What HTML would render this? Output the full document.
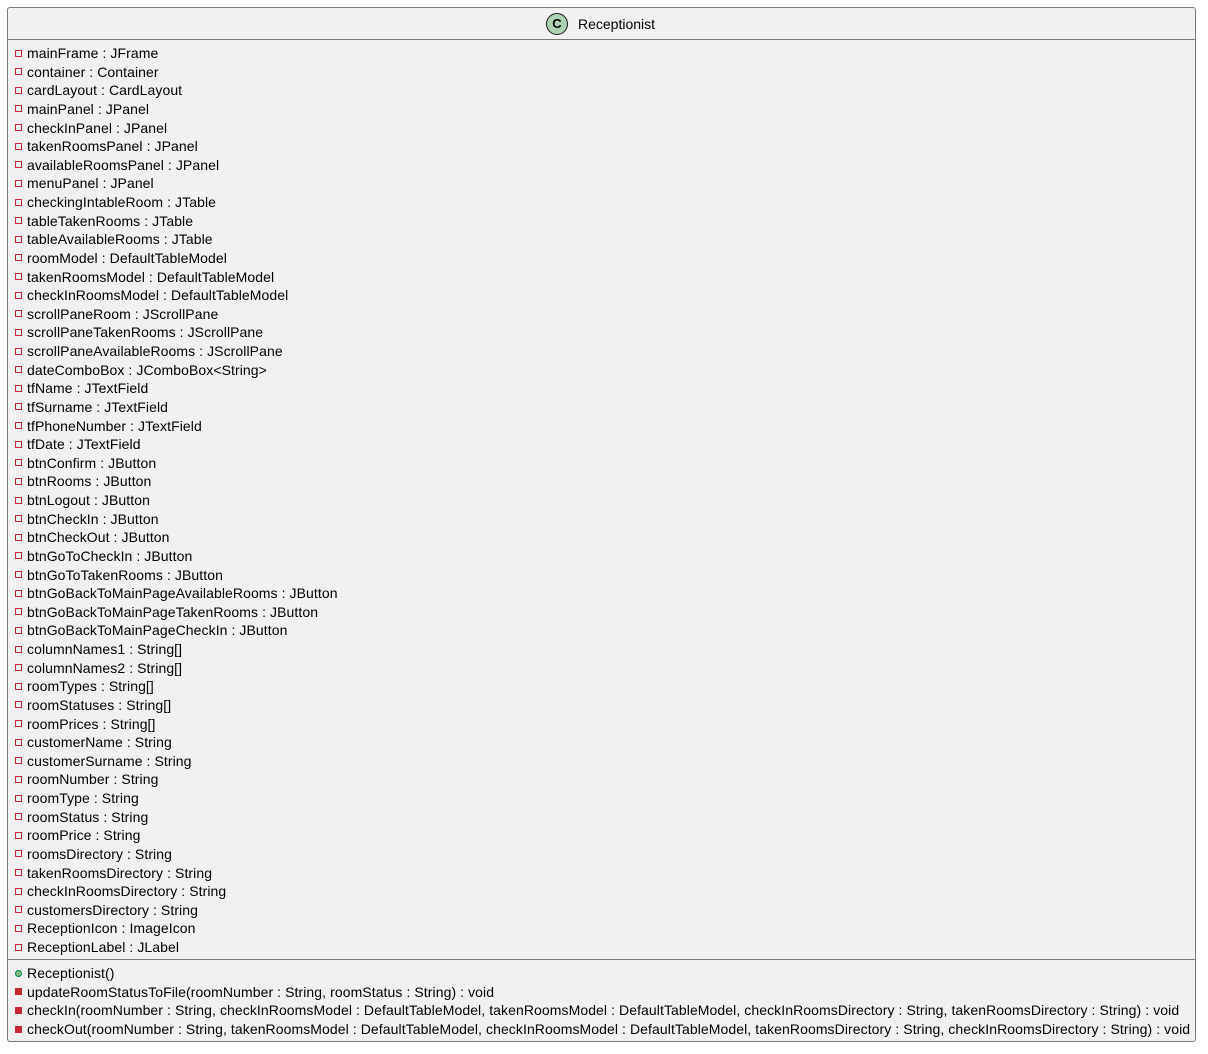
<!DOCTYPE html>
<html><head><meta charset="utf-8"><style>
body{margin:0;background:#fff;width:1208px;height:1054px;position:relative;overflow:hidden;font-family:"Liberation Sans",Arial,sans-serif}
.box{position:absolute;left:7px;top:7px;width:1189px;height:1035px;background:#f1f1f1;border:1px solid #7a7a7a;border-radius:3px;box-sizing:border-box}
.sep{position:absolute;left:8px;width:1187px;height:1px;background:#7a7a7a}
.r{position:absolute;left:27px;font-size:14px;letter-spacing:0.08px;line-height:18px;height:18px;white-space:nowrap;color:#000}
.i{position:absolute;left:15px;width:5px;height:5px;border:1px solid #c82930;box-sizing:content-box}
.m{position:absolute;left:15px;width:7px;height:7px;background:#c82930}
.p{position:absolute;left:15px;width:7px;height:7px;border-radius:50%;background:#84be84;border:1px solid #038048;box-sizing:border-box}
</style></head><body>
<div class="box"></div>
<div class="sep" style="top:39px"></div>
<div class="sep" style="top:959px"></div>
<div style="position:absolute;left:546px;top:13px;width:22px;height:22px;border-radius:50%;background:#add1b2;border:1px solid #181818;box-sizing:border-box;text-align:center;font:bold 13px/20px 'Liberation Sans',sans-serif">C</div>
<div style="position:absolute;left:578px;top:15px;font-size:14px;line-height:18px">Receptionist</div>
<div id="f"></div>
<script>
var fields=["mainFrame : JFrame","container : Container","cardLayout : CardLayout","mainPanel : JPanel","checkInPanel : JPanel","takenRoomsPanel : JPanel","availableRoomsPanel : JPanel","menuPanel : JPanel","checkingIntableRoom : JTable","tableTakenRooms : JTable","tableAvailableRooms : JTable","roomModel : DefaultTableModel","takenRoomsModel : DefaultTableModel","checkInRoomsModel : DefaultTableModel","scrollPaneRoom : JScrollPane","scrollPaneTakenRooms : JScrollPane","scrollPaneAvailableRooms : JScrollPane","dateComboBox : JComboBox&lt;String&gt;","tfName : JTextField","tfSurname : JTextField","tfPhoneNumber : JTextField","tfDate : JTextField","btnConfirm : JButton","btnRooms : JButton","btnLogout : JButton","btnCheckIn : JButton","btnCheckOut : JButton","btnGoToCheckIn : JButton","btnGoToTakenRooms : JButton","btnGoBackToMainPageAvailableRooms : JButton","btnGoBackToMainPageTakenRooms : JButton","btnGoBackToMainPageCheckIn : JButton","columnNames1 : String[]","columnNames2 : String[]","roomTypes : String[]","roomStatuses : String[]","roomPrices : String[]","customerName : String","customerSurname : String","roomNumber : String","roomType : String","roomStatus : String","roomPrice : String","roomsDirectory : String","takenRoomsDirectory : String","checkInRoomsDirectory : String","customersDirectory : String","ReceptionIcon : ImageIcon","ReceptionLabel : JLabel"];
var h="";
fields.forEach(function(t,k){var c=53+k*18.625;h+='<div class="i" style="top:'+Math.round(c-3.5)+'px"></div><div class="r" style="top:'+Math.round(c-9)+'px">'+t+'</div>';});
var meth=[["p","Receptionist()"],["m","updateRoomStatusToFile(roomNumber : String, roomStatus : String) : void"],["m","checkIn(roomNumber : String, checkInRoomsModel : DefaultTableModel, takenRoomsModel : DefaultTableModel, checkInRoomsDirectory : String, takenRoomsDirectory : String) : void"],["m","checkOut(roomNumber : String, takenRoomsModel : DefaultTableModel, checkInRoomsModel : DefaultTableModel, takenRoomsDirectory : String, checkInRoomsDirectory : String) : void"]];
meth.forEach(function(m,k){var c=973+k*18.67;h+='<div class="'+m[0]+'" style="top:'+Math.round(c-3.5)+'px"></div><div class="r" style="top:'+Math.round(c-9)+'px">'+m[1]+'</div>';});
document.getElementById("f").innerHTML=h;
</script>
</body></html>
